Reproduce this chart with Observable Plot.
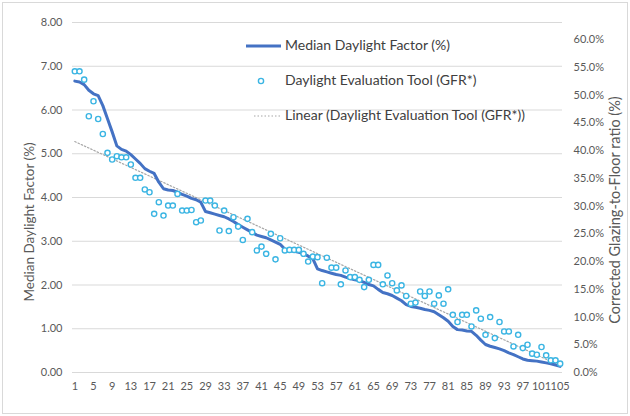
<!DOCTYPE html>
<html><head><meta charset="utf-8">
<script src="https://cdn.jsdelivr.net/npm/d3@7"></script>
<script src="https://cdn.jsdelivr.net/npm/@observablehq/plot@0.6"></script>
<style>
body{margin:0;background:#fff;}
#wrap{position:relative;width:630px;height:416px;}
#border{position:absolute;left:2px;top:2px;width:626px;height:412px;border:1px solid #d9d9d9;box-sizing:border-box;pointer-events:none;}
</style></head><body><div id="wrap"><div id="border"></div></div>
<script>
// Median Daylight Factor (%) per room, sorted descending (left axis)
const medianDF = [
 6.66,6.64,6.58,6.45,6.37,6.33,6.10,5.80,5.50,5.18,
 5.10,5.06,4.98,4.88,4.78,4.66,4.60,4.55,4.35,4.20,
 4.17,4.16,4.12,4.07,4.03,3.98,3.95,3.89,3.68,3.65,
 3.62,3.59,3.56,3.51,3.45,3.38,3.32,3.26,3.20,3.14,
 3.11,3.08,3.03,2.98,2.93,2.82,2.79,2.77,2.75,2.72,
 2.66,2.60,2.37,2.33,2.30,2.27,2.24,2.22,2.18,2.15,
 2.12,2.10,2.06,2.01,1.98,1.90,1.83,1.80,1.76,1.70,
 1.64,1.55,1.51,1.49,1.47,1.44,1.42,1.39,1.32,1.25,
 1.17,1.05,0.98,0.97,0.95,0.94,0.85,0.74,0.64,0.60,
 0.57,0.54,0.50,0.45,0.41,0.36,0.31,0.28,0.27,0.26,
 0.24,0.22,0.20,0.17,0.14
];
// Daylight Evaluation Tool, corrected glazing-to-floor ratio GFR* (%) (right axis)
const gfrStar = [
 54.3,54.3,52.8,46.2,48.9,45.7,43.0,39.6,38.4,39.0,
 38.8,38.8,37.5,35.1,35.1,33.0,32.5,28.6,30.7,28.3,
 30.1,30.1,32.2,29.2,29.2,29.3,27.1,27.4,31.0,31.0,
 30.1,25.6,29.2,25.5,28.0,26.3,23.9,27.7,25.3,22.0,
 22.7,21.4,25.0,20.4,24.2,22.0,22.1,22.1,22.1,21.4,
 20.0,20.9,20.8,16.1,20.7,18.9,18.9,15.9,18.4,17.2,
 17.2,16.7,15.4,16.7,19.4,19.4,15.9,17.5,16.1,14.8,
 15.7,13.8,12.4,12.6,14.6,13.8,14.6,12.4,13.9,12.4,
 15.0,10.4,9.1,10.4,10.4,8.3,11.2,9.7,6.8,10.0,
 6.2,9.1,7.4,7.4,4.7,6.8,4.4,5.0,3.4,3.2,
 4.6,3.1,2.2,2.2,1.6
];
const xTickLabels = [1,5,9,13,17,21,25,29,33,37,41,45,49,53,57,61,65,69,73,77,81,85,89,93,97,101,105];
const leftTicks = [0,1,2,3,4,5,6,7,8];
const rightTicks = [0,5,10,15,20,25,30,35,40,45,50,55,60];
const legendLabels = ["Median Daylight Factor (%)","Daylight Evaluation Tool (GFR*)","Linear (Daylight Evaluation Tool (GFR*))"];
const yTitleLeft = "Median Daylight Factor (%)";
const yTitleRight = "Corrected Glazing-to-Floor ratio (%)";

const LEFT_MAX = 8, RIGHT_MAX = 63.1;
const toLeft = v => v * LEFT_MAX / RIGHT_MAX;
const FONT = "Lato, 'Open Sans', sans-serif";
const lineColor = "#4472C4", dotColor = "#3BB5E3", trendColor = "#a6a6a6";

const chart = Plot.plot({
  width: 630, height: 416,
  marginLeft: 72, marginRight: 68, marginTop: 22, marginBottom: 44,
  x: {domain: [0.5, 105.5]},
  y: {domain: [0, LEFT_MAX]},
  style: {fontFamily: FONT, fontSize: "11px", color: "#595959", background: "transparent"},
  marks: [
    Plot.ruleY(leftTicks, {stroke: "#d9d9d9", strokeWidth: 1}),
    Plot.axisY(leftTicks, {anchor: "left", tickSize: 0, tickPadding: 10, tickFormat: d => d.toFixed(2), label: null, fill: "#595959"}),
    Plot.axisY(rightTicks.map(toLeft), {anchor: "right", tickSize: 0, tickPadding: 11, tickFormat: v => (v * RIGHT_MAX / LEFT_MAX).toFixed(1) + "%", label: null, fill: "#595959"}),
    Plot.axisX(xTickLabels, {anchor: "bottom", tickSize: 0, tickPadding: 10, label: null, fill: "#595959"}),
    Plot.linearRegressionY(gfrStar, {x: (d, i) => i + 1, y: d => toLeft(d), stroke: trendColor, strokeWidth: 1.2, strokeDasharray: "1.5,2", ci: 0}),
    Plot.line(medianDF, {x: (d, i) => i + 1, y: d => d, stroke: lineColor, strokeWidth: 3}),
    Plot.dot(gfrStar, {x: (d, i) => i + 1, y: d => toLeft(d), r: 2.6, stroke: dotColor, strokeWidth: 1.4, fill: "white"})
  ]
});
document.getElementById("wrap").prepend(chart);

const svg = d3.select(chart);
// axis titles
svg.append("text").attr("transform", "translate(31,222) rotate(-90)")
  .attr("text-anchor", "middle").attr("dominant-baseline", "middle")
  .style("font-family", FONT).style("font-size", "13.5px").attr("fill", "#595959").text(yTitleLeft);
svg.append("text").attr("transform", "translate(616,210) rotate(-90)")
  .attr("text-anchor", "middle").attr("dominant-baseline", "middle")
  .style("font-family", FONT).style("font-size", "14.5px").attr("fill", "#595959").text(yTitleRight);
// legend
const lg = svg.append("g").style("font-family", FONT).style("font-size", "14px");
lg.append("line").attr("x1", 246).attr("x2", 281).attr("y1", 46).attr("y2", 46).attr("stroke", lineColor).attr("stroke-width", 3);
lg.append("circle").attr("cx", 261).attr("cy", 81).attr("r", 2.6).attr("fill", "white").attr("stroke", dotColor).attr("stroke-width", 1.4);
lg.append("line").attr("x1", 254).attr("x2", 280).attr("y1", 116).attr("y2", 116).attr("stroke", trendColor).attr("stroke-width", 1.2).attr("stroke-dasharray", "1.5,2");
[46, 81, 116].forEach((y, i) => {
  lg.append("text").attr("x", 285).attr("y", y).attr("text-anchor", "start").attr("dominant-baseline", "middle").attr("fill", "#404040").text(legendLabels[i]);
});
</script></body></html>
